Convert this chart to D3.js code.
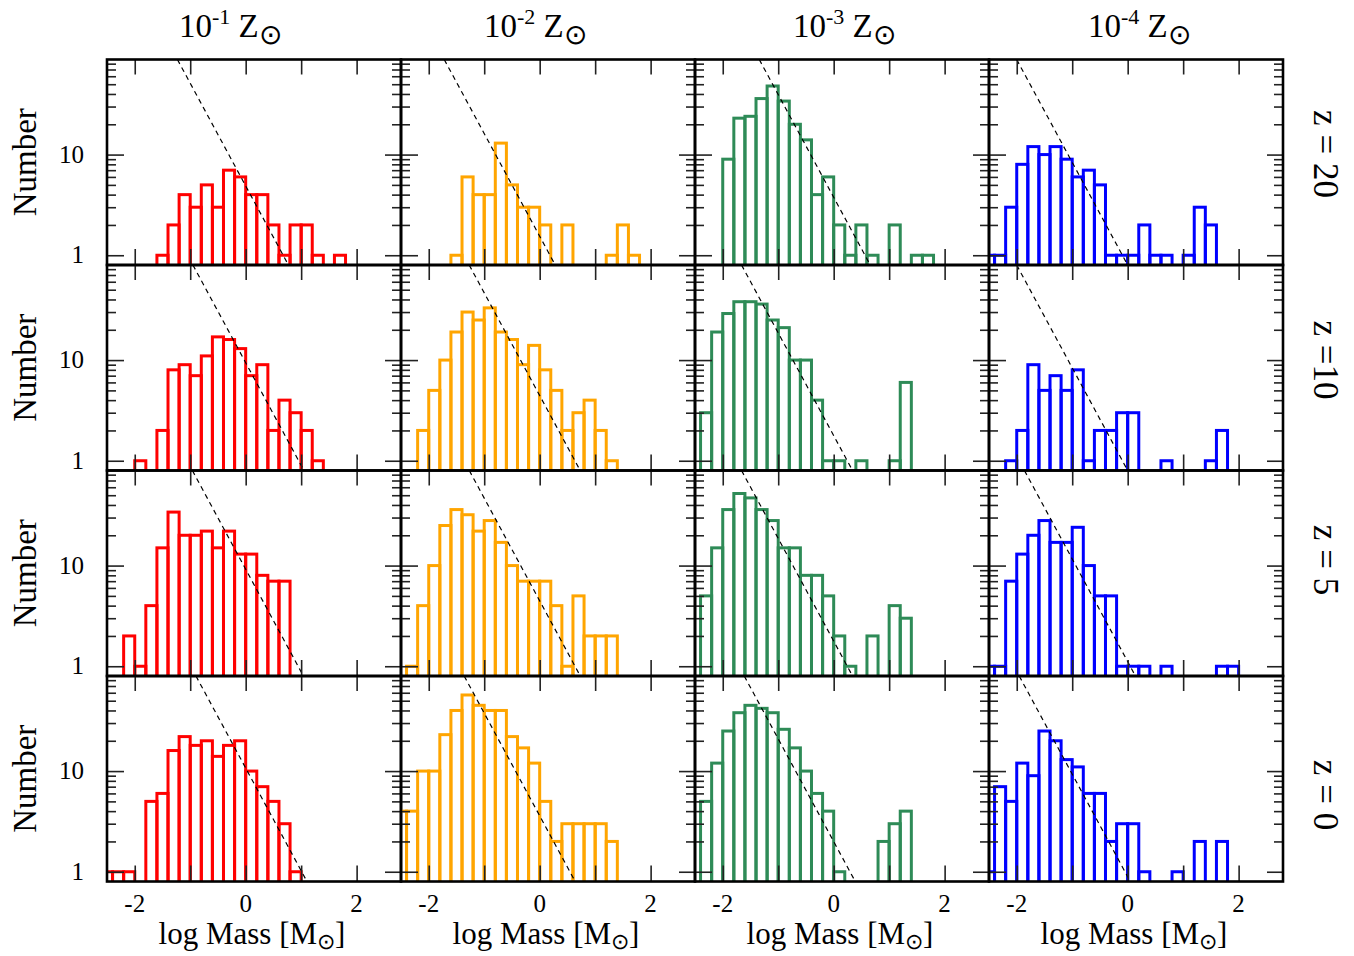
<!DOCTYPE html>
<html><head><meta charset="utf-8">
<script src="https://cdn.jsdelivr.net/npm/d3@7"></script>
<style>body{margin:0;background:#fff}svg{display:block}</style>
</head><body><div id="chart"></div>
<script>
// ---------- data ----------
const metallicityExponents = ["-1", "-2", "-3", "-4"];
const redshiftLabels = ["z = 20", "z =10", "z = 5", "z = 0"];
const seriesColors = ["#ff0000", "#ffa500", "#2e8b57", "#0000ff"];
const xTickValues = [-2, -1, 0, 1, 2];
const xTickLabels = ["-2", "", "0", "", "2"];
const yMajorTicks = [1, 10];
const yTickLabels = ["1", "10"];
const yMinorTicks = [2, 3, 4, 5, 6, 7, 8, 9, 20, 30, 40, 50, 60, 70, 80];
const binWidth = 0.2;

// left edge (log Mass) of the first bin, per metallicity column
const binStart_z20 = [-1.6, -1.6, -2.0, -2.6];
const binStart_z10 = [-2.0, -2.2, -2.4, -2.2];
const binStart_z5  = [-2.2, -2.4, -2.4, -2.6];
const binStart_z0  = [-2.6, -2.6, -2.4, -2.6];

// counts per 0.2 dex bin
const counts_z20_Z1 = [1, 2, 4, 3, 5, 3, 7, 6, 4, 4, 2, 1, 2, 2, 1, 0, 1];
const counts_z20_Z2 = [1, 6, 4, 4, 13, 5, 3, 3, 2, 0, 2, 0, 0, 0, 1, 2, 1];
const counts_z20_Z3 = [9, 23, 24, 36, 48, 34, 20, 14, 4, 6, 2, 1, 2, 1, 0, 2, 0, 1, 1];
const counts_z20_Z4 = [1, 1, 3, 8, 12, 10, 12, 9, 6, 7, 5, 1, 1, 1, 2, 1, 1, 0, 1, 3, 2];

const counts_z10_Z1 = [1, 0, 2, 8, 9, 7, 11, 17, 16, 13, 7, 9, 2, 4, 3, 2, 1];
const counts_z10_Z2 = [2, 5, 10, 19, 30, 25, 33, 19, 16, 9, 14, 8, 5, 2, 3, 4, 2, 1];
const counts_z10_Z3 = [3, 19, 29, 38, 38, 36, 25, 21, 10, 10, 4, 1, 1, 0, 1, 0, 0, 1, 6];
const counts_z10_Z4 = [1, 2, 9, 5, 7, 5, 8, 1, 2, 2, 3, 3, 0, 0, 1, 0, 0, 0, 1, 2];

const counts_z5_Z1 = [2, 1, 4, 15, 34, 20, 20, 22, 15, 22, 13, 13, 8, 7, 7];
const counts_z5_Z2 = [1, 4, 10, 25, 36, 32, 22, 28, 17, 10, 7, 7, 7, 4, 1, 5, 2, 2, 2];
const counts_z5_Z3 = [5, 15, 36, 52, 47, 36, 28, 15, 15, 8, 8, 5, 2, 1, 0, 2, 0, 4, 3];
const counts_z5_Z4 = [1, 1, 7, 13, 20, 28, 17, 17, 24, 10, 5, 5, 1, 1, 1, 0, 1, 0, 0, 0, 0, 1, 1];

const counts_z0_Z1 = [1, 1, 1, 0, 5, 6, 16, 22, 18, 20, 14, 18, 20, 10, 7, 5, 3, 1];
const counts_z0_Z2 = [4, 4, 10, 10, 23, 40, 57, 45, 40, 40, 22, 17, 12, 5, 2, 3, 3, 3, 3, 2];
const counts_z0_Z3 = [5, 12, 25, 38, 45, 42, 38, 26, 17, 10, 6, 4, 1, 0, 0, 0, 2, 3, 4];
const counts_z0_Z4 = [1, 7, 5, 12, 9, 25, 20, 13, 11, 6, 6, 2, 3, 3, 1, 0, 0, 1, 0, 2, 0, 2];

// dashed reference line: log N = intercept - slope * log M
const dashSlope = 1.02;
const dashIntercept_z20 = [0.689, 0.189, 0.576, -0.097];
const dashIntercept_z10 = [0.974, 0.648, 0.25, -0.097];
const dashIntercept_z5  = [0.964, 0.65, 0.25, 0.046];
const dashIntercept_z0  = [1.03, 0.556, 0.30, -0.05];

// ---------- layout ----------
const W = 1354, H = 956;
const left0 = 107, top0 = 59.5, pw = 294, ph = 205.5;
const titleX = [179, 484, 793, 1088];
const rightLabelY = [154, 360, 560, 795];
const serif = "'Liberation Serif','Times New Roman',serif";

const starts = [binStart_z20, binStart_z10, binStart_z5, binStart_z0];
const counts = [
  [counts_z20_Z1, counts_z20_Z2, counts_z20_Z3, counts_z20_Z4],
  [counts_z10_Z1, counts_z10_Z2, counts_z10_Z3, counts_z10_Z4],
  [counts_z5_Z1, counts_z5_Z2, counts_z5_Z3, counts_z5_Z4],
  [counts_z0_Z1, counts_z0_Z2, counts_z0_Z3, counts_z0_Z4]
];
const intercepts = [dashIntercept_z20, dashIntercept_z10, dashIntercept_z5, dashIntercept_z0];

const svg = d3.select("#chart").append("svg").attr("width", W).attr("height", H)
  .style("font-family", serif);

const x = d3.scaleLinear().domain([-2.5, 2.8]).range([0, pw]);
const y = d3.scaleLog().domain([0.8, 88]).range([ph, 0]);

svg.append("defs").append("clipPath").attr("id", "pclip")
  .append("rect").attr("x", 0).attr("y", 0).attr("width", pw).attr("height", ph);

for (let r = 0; r < 4; r++) {
  for (let c = 0; c < 4; c++) {
    const g = svg.append("g").attr("transform", `translate(${left0 + c * pw},${top0 + r * ph})`);
    const inner = g.append("g").attr("clip-path", "url(#pclip)");
    const bins = counts[r][c].map((n, i) => ({ x0: starts[r][c] + i * binWidth, n }))
      .filter(d => d.n > 0);
    inner.selectAll("rect.bar").data(bins).join("rect").attr("class", "bar")
      .attr("x", d => x(d.x0))
      .attr("width", d => x(d.x0 + binWidth) - x(d.x0))
      .attr("y", d => y(d.n))
      .attr("height", d => ph + 4 - y(d.n))
      .attr("fill", "none")
      .attr("stroke", seriesColors[c])
      .attr("stroke-width", 3);

    // dashed power-law line, between the points where it crosses the y-domain
    const a = intercepts[r][c];
    const [yLo, yHi] = y.domain();
    const [xLo, xHi] = x.domain();
    const m0 = Math.max(xLo, (a - Math.log10(yHi)) / dashSlope);
    const m1 = Math.min(xHi, (a - Math.log10(yLo)) / dashSlope);
    const pts = [m0, m1].map(m => [m, Math.pow(10, a - dashSlope * m)]);
    inner.append("path")
      .attr("d", d3.line().x(d => x(d[0])).y(d => y(d[1]))(pts))
      .attr("fill", "none").attr("stroke", "#000").attr("stroke-width", 1.2)
      .attr("stroke-dasharray", "5,4");

    // ticks
    const tickStyle = sel => {
      sel.select(".domain").remove();
      sel.selectAll("line").attr("stroke", "#222").attr("stroke-width", 1.6);
      sel.selectAll("text").remove();
    };
    g.append("g").attr("transform", `translate(0,${ph})`)
      .call(d3.axisBottom(x).tickValues(xTickValues).tickSize(-16).tickFormat("")).call(tickStyle);
    g.append("g").call(d3.axisTop(x).tickValues(xTickValues).tickSize(-15).tickFormat("")).call(tickStyle);
    g.append("g").call(d3.axisLeft(y).tickValues(yMajorTicks).tickSize(-17).tickFormat("")).call(tickStyle);
    g.append("g").call(d3.axisLeft(y).tickValues(yMinorTicks).tickSize(-9).tickFormat("")).call(tickStyle);
    g.append("g").attr("transform", `translate(${pw},0)`)
      .call(d3.axisRight(y).tickValues(yMajorTicks).tickSize(-16).tickFormat("")).call(tickStyle);
    g.append("g").attr("transform", `translate(${pw},0)`)
      .call(d3.axisRight(y).tickValues(yMinorTicks).tickSize(-9).tickFormat("")).call(tickStyle);

    // frame
    g.append("rect").attr("width", pw).attr("height", ph)
      .attr("fill", "none").attr("stroke", "#000").attr("stroke-width", 2.6);

    // y tick labels
    if (c === 0) {
      g.selectAll("text.ylab").data(yMajorTicks).join("text").attr("class", "ylab")
        .attr("x", -23).attr("y", d => y(d) + 8)
        .attr("text-anchor", "end").attr("font-size", 25)
        .text((d, i) => yTickLabels[i]);
      g.append("text").attr("transform", `translate(-71,${ph / 2}) rotate(-90)`)
        .attr("text-anchor", "middle").attr("font-size", 33).text("Number");
    }
    // x tick labels and axis title
    if (r === 3) {
      g.selectAll("text.xlab").data(xTickValues).join("text").attr("class", "xlab")
        .attr("x", d => x(d)).attr("y", ph + 30)
        .attr("text-anchor", "middle").attr("font-size", 25)
        .text((d, i) => xTickLabels[i]);
      const t = g.append("text").attr("x", pw / 2 - 2).attr("y", ph + 62.5)
        .attr("text-anchor", "middle").attr("font-size", 31);
      t.append("tspan").text("log Mass [M");
      t.append("tspan").attr("font-size", 22).attr("dy", 5).text("\u2299");
      t.append("tspan").attr("dy", -5).text("]");
    }
  }
}

// column titles
metallicityExponents.forEach((e, i) => {
  const t = svg.append("text").attr("x", titleX[i]).attr("y", 37).attr("font-size", 33);
  t.append("tspan").text("10");
  t.append("tspan").attr("font-size", 22).attr("dy", -13).text(e);
  t.append("tspan").attr("dy", 13).text(" Z");
  t.append("tspan").attr("font-size", 28).attr("dy", 7).text("\u2299");
});

// row labels
redshiftLabels.forEach((lab, i) => {
  svg.append("text").attr("transform", `translate(1314,${rightLabelY[i]}) rotate(90)`)
    .attr("text-anchor", "middle").attr("font-size", 35).text(lab);
});
</script>
</body></html>
